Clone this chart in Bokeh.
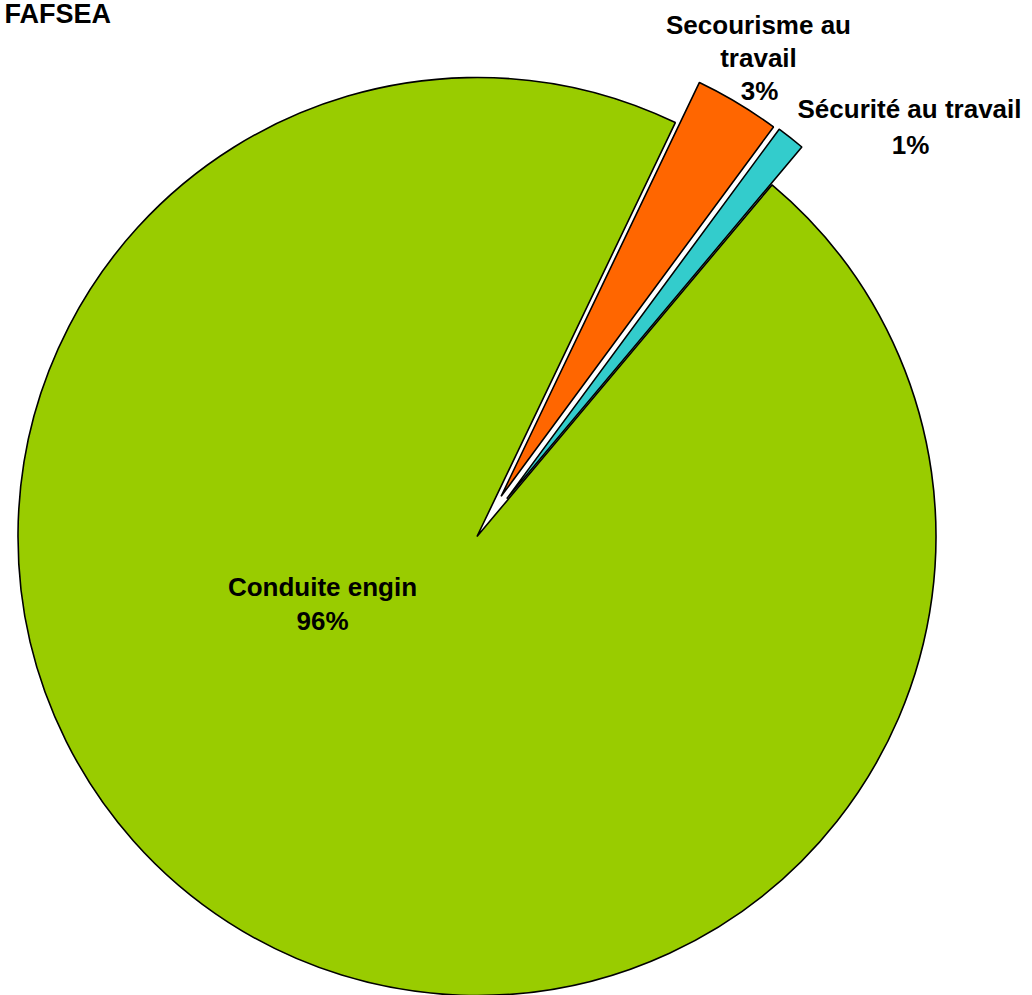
import math
from bokeh.plotting import figure
from bokeh.models import Range1d, ColumnDataSource
from bokeh.embed import file_html
from bokeh.resources import INLINE
from bokeh.core.properties import value

# ---- data ----
categories = ["Conduite engin", "Secourisme au travail", "Sécurité au travail"]
values = [96.0, 3.0, 1.0]
pct_labels = ["96%", "3%", "1%"]
colors = ["#99CC00", "#FF6600", "#33CCCC"]
explode = [0.0, 0.102, 0.105]          # fraction of radius
title_text = "FAFSEA"

# label lines (text) and their anchor positions (page pixels)
label_lines = ["Conduite engin", "96%", "Secourisme au", "travail", "3%",
               "Sécurité au travail", "1%"]
label_x = [322, 322, 758, 758, 759, 909, 910]
label_y = [586, 620, 24, 57, 90, 108, 144]

# ---- geometry (page pixel space) ----
W, H = 1032, 995
cx, cy, R = 476.5, 536.0, 459.0
first_angle = 40.0   # degrees, clockwise from 12 o'clock

p = figure(width=W, height=H, output_backend="svg", toolbar_location=None,
           x_range=Range1d(0, W), y_range=Range1d(-H, 0),
           min_border=0, outline_line_color=None)
p.axis.visible = False
p.grid.visible = False
p.background_fill_color = "white"
p.border_fill_color = "white"

total = sum(values)
xs, ys, sa, ea = [], [], [], []
cum = 0.0
for v, e in zip(values, explode):
    a1 = first_angle + cum / total * 360.0
    a2 = a1 + v / total * 360.0
    cum += v
    mid = math.radians((a1 + a2) / 2)
    d = e * R
    xs.append(cx + d * math.sin(mid))
    ys.append(-(cy - d * math.cos(mid)))
    sa.append(math.radians(90.0 - a2))
    ea.append(math.radians(90.0 - a1))

src = ColumnDataSource(dict(x=xs, y=ys, start=sa, end=ea, color=colors, cat=categories))
p.wedge(x="x", y="y", radius=R, start_angle="start", end_angle="end",
        fill_color="color", line_color="black", line_width=1.6, source=src)

lsrc = ColumnDataSource(dict(x=label_x, y=[-v for v in label_y], t=label_lines))
p.text(x="x", y="y", text="t", source=lsrc, text_align="center",
       text_baseline="alphabetic", text_font=value("Liberation Sans"),
       text_font_style="bold", text_font_size="26px", text_color="black")

p.text(x=[4], y=[-13], text=[title_text], text_align="left",
       text_baseline="alphabetic", text_font=value("Liberation Sans"),
       text_font_style="bold", text_font_size="27px", text_color="black")

open("out.html", "w").write(file_html(p, INLINE))
